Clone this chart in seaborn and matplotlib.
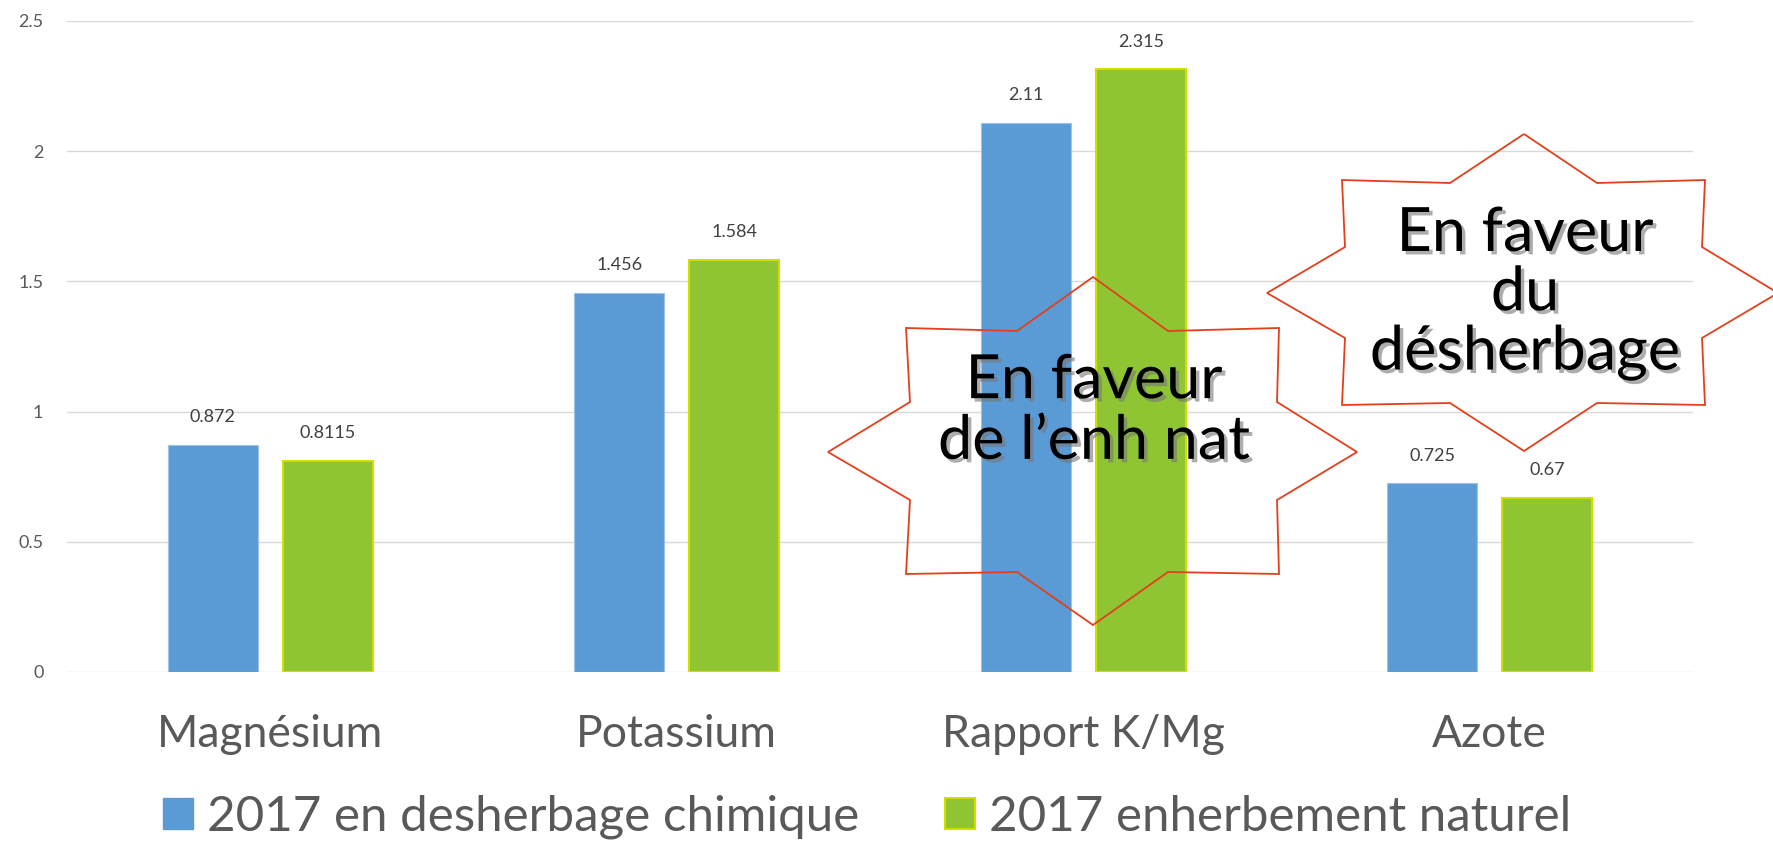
import matplotlib
matplotlib.use("Agg")
import matplotlib.pyplot as plt
import seaborn as sns
import pandas as pd
from matplotlib.patches import Polygon, Patch
import matplotlib.patheffects as pe

categories = ["Magnésium", "Potassium", "Rapport K/Mg", "Azote"]
series = ["2017 en desherbage chimique", "2017 enherbement naturel"]
chimique = [0.872, 1.456, 2.11, 0.725]
naturel = [0.8115, 1.584, 2.315, 0.67]
yticks = [0, 0.5, 1, 1.5, 2, 2.5]
ytick_labels = ["0", "0.5", "1", "1.5", "2", "2.5"]

BLUE = "#5B9BD5"
GREEN = "#8FC532"
GREEN_EDGE = "#D0DE00"
GRAY = "#595959"
STAR = "#E2401C"

sns.set_theme(style="white")
plt.rcParams["font.family"] = ["Lato", "DejaVu Sans"]

W, H = 1774, 842
fig = plt.figure(figsize=(W / 100, H / 100), dpi=100)
ax = fig.add_axes([67 / W, 170 / H, 1626 / W, 651 / H])

df = pd.DataFrame({
    "cat": categories * 2,
    "val": chimique + naturel,
    "serie": [series[0]] * 4 + [series[1]] * 4,
})
sns.barplot(data=df, x="cat", y="val", hue="serie", hue_order=series,
            palette=[BLUE, GREEN], width=0.566, gap=0.217, saturation=1,
            legend=False, ax=ax)

for bar in ax.containers[0]:
    bar.set_edgecolor("#9CC2E8")
    bar.set_linewidth(0.8)
for bar in ax.containers[1]:
    bar.set_edgecolor(GREEN_EDGE)
    bar.set_linewidth(1.5)

for cont, vals in zip(ax.containers, [chimique, naturel]):
    ax.bar_label(cont, labels=[f"{v:g}" for v in vals], padding=14,
                 fontsize=13, color="#404040")

ax.set_ylim(0, 2.5)
ax.set_yticks(yticks)
ax.set_yticklabels(ytick_labels)
ax.grid(axis="y", color="#D9D9D9", linewidth=1.0)
ax.grid(axis="x", visible=False)
ax.set_axisbelow(True)
ax.tick_params(axis="y", length=0, pad=17, labelsize=13, labelcolor=GRAY)
ax.tick_params(axis="x", length=0, pad=30, labelsize=32, labelcolor=GRAY)
ax.set_xlabel("")
ax.set_ylabel("")
for s in ax.spines.values():
    s.set_visible(False)

handles = [Patch(facecolor=BLUE, edgecolor=BLUE),
           Patch(facecolor=GREEN, edgecolor=GREEN_EDGE, linewidth=1.5)]
fig.legend(handles, series, loc="center", bbox_to_anchor=(867 / W, 1 - 817 / H),
           ncol=2, frameon=False, fontsize=35.5, handlelength=0.61,
           handleheight=0.61, handletextpad=0.28, columnspacing=1.75,
           labelcolor=GRAY, borderaxespad=0, borderpad=0)

def fig_pts(pts):
    return [(x / W, 1 - y / H) for x, y in pts]

star_left = [(1093, 277), (1168, 331), (1279, 328), (1277, 402), (1357, 452),
             (1277, 500), (1279, 574), (1168, 572), (1093, 625), (1017, 572),
             (906, 574), (910, 500), (828, 452), (910, 402), (906, 328),
             (1017, 331)]
star_right = [(1524, 134), (1597, 183), (1705, 180), (1702, 247), (1778, 293),
              (1702, 338), (1705, 405), (1597, 403), (1524, 451), (1450, 403),
              (1342, 405), (1345, 338), (1267, 293), (1345, 247), (1342, 180),
              (1450, 183)]
for pts in (star_left, star_right):
    fig.add_artist(Polygon(fig_pts(pts), closed=True, fill=False,
                           edgecolor=STAR, linewidth=1.3,
                           transform=fig.transFigure, zorder=5))

shadow = [pe.withSimplePatchShadow(offset=(2.5, -2.5), shadow_rgbFace="#777777",
                                    alpha=0.6)]
fig.text(1094 / W, 1 - 411 / H, "En faveur\nde l’enh nat", ha="center",
         va="center", fontsize=44, color="black", linespacing=1.08,
         path_effects=shadow, zorder=6)
fig.text(1525 / W, 1 - 293 / H, "En faveur\ndu\ndésherbage", ha="center",
         va="center", fontsize=44, color="black", linespacing=1.05,
         path_effects=shadow, zorder=6)

fig.savefig("out.png", dpi=100)
